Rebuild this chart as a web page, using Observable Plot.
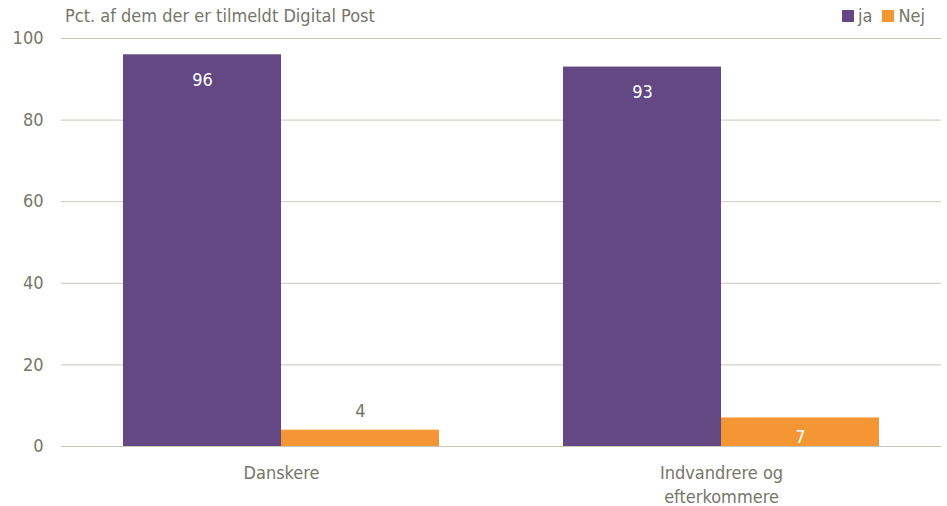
<!DOCTYPE html>
<html>
<head>
<meta charset="utf-8">
<script src="https://cdn.jsdelivr.net/npm/d3@7"></script>
<script src="https://cdn.jsdelivr.net/npm/@observablehq/plot@0.6"></script>
<style>
  html, body { margin: 0; padding: 0; background: #fff; }
  #wrap { position: relative; width: 947px; height: 506px; font-family: "DejaVu Sans", sans-serif; font-stretch: condensed; color: #767668; }
  #wrap svg text { font-stretch: condensed; }
  #title { position: absolute; left: 65px; top: 5px; font-size: 18px; }
  #legend { position: absolute; right: 22px; top: 5px; font-size: 18px; display: flex; align-items: center; }
  #legend .sw { display: inline-block; width: 12px; height: 12px; }
  #legend .item { display: flex; align-items: center; gap: 4px; margin-left: 10px; }
</style>
</head>
<body>
<div id="wrap">
  <div id="chart"></div>
  <div id="title">Pct. af dem der er tilmeldt Digital Post</div>
  <div id="legend"></div>
</div>
<script>
const groups = ["Danskere", "Indvandrere og efterkommere"];
const groupLabels = ["Danskere", "Indvandrere og\nefterkommere"];
const series = ["ja", "Nej"];
const jaValues = [96, 93];
const nejValues = [4, 7];
const colors = ["#634884", "#f39633"];
const yTicks = [0, 20, 40, 60, 80, 100];

const data = groups.flatMap((g, i) => [
  {group: g, serie: "ja", value: jaValues[i]},
  {group: g, serie: "Nej", value: nejValues[i]}
]);

const chart = Plot.plot({
  width: 947,
  height: 506,
  marginLeft: 61,
  marginRight: 6,
  marginTop: 38,
  marginBottom: 60,
  style: {fontFamily: "'DejaVu Sans', sans-serif", fontSize: "18px", color: "#767668", background: "transparent"},
  fx: {domain: groups, padding: 0, label: null},
  x: {domain: series, paddingInner: 0, paddingOuter: 0.392, axis: null},
  y: {domain: [0, 100], label: null},
  color: {domain: series, range: colors},
  marks: [
    Plot.ruleY(yTicks, {stroke: "#c8c8b8", strokeWidth: 1}),
    Plot.axisY({ticks: yTicks, tickSize: 0, tickPadding: 18, label: null, fontSize: 18, fill: "#767668"}),
    Plot.axisFx({anchor: "bottom", tickSize: 0, tickPadding: 16, label: null, fontSize: 18, fill: "#767668", lineHeight: 1.3,
      tickFormat: d => groupLabels[groups.indexOf(d)]}),
    Plot.barY(data, {fx: "group", x: "serie", y: "value", fill: "serie", inset: 0}),
    Plot.text(data.filter(d => d.value >= 10), {fx: "group", x: "serie", y: "value", text: d => String(d.value), dy: 25, fill: "white", fontSize: 18}),
    Plot.text(data.filter(d => d.value > 5 && d.value < 10), {fx: "group", x: "serie", y: "value", text: d => String(d.value), dy: 19, fill: "white", fontSize: 18}),
    Plot.text(data.filter(d => d.value <= 5), {fx: "group", x: "serie", y: "value", text: d => String(d.value), dy: -19, fill: "#767668", fontSize: 18}),
    Plot.ruleY([0], {stroke: "#c8c8b8", strokeWidth: 1})
  ]
});
document.getElementById("chart").appendChild(chart);

const legend = document.getElementById("legend");
series.forEach((s, i) => {
  const item = document.createElement("span");
  item.className = "item";
  const sw = document.createElement("span");
  sw.className = "sw";
  sw.style.background = colors[i];
  const t = document.createElement("span");
  t.textContent = s;
  item.appendChild(sw);
  item.appendChild(t);
  legend.appendChild(item);
});
</script>
</body>
</html>
